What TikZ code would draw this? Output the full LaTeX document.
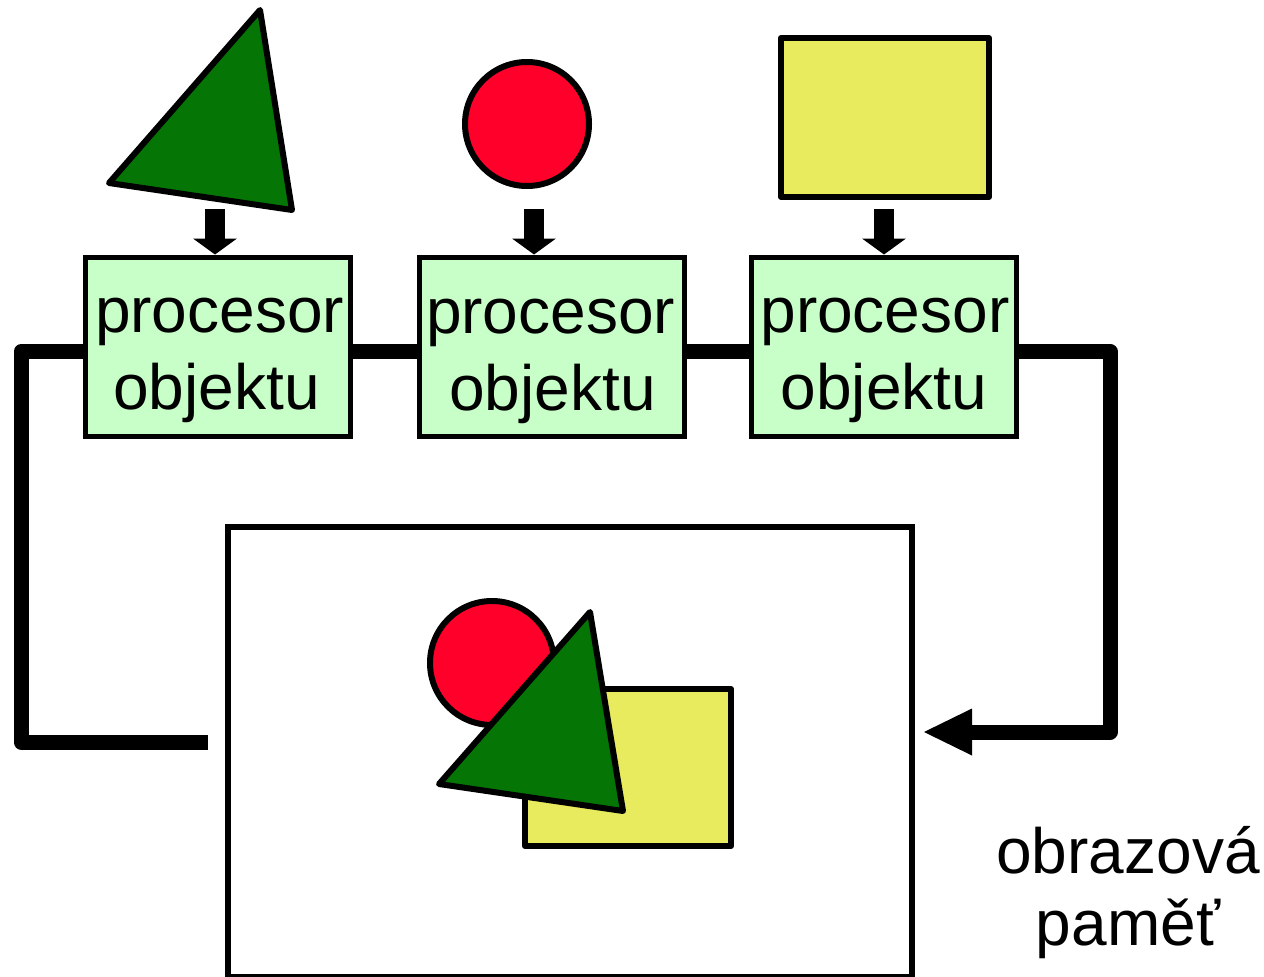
\documentclass[tikz,border=0pt]{standalone}
\usepackage{fontspec}
\setmainfont{Liberation Sans}
\usetikzlibrary{arrows.meta}
\definecolor{boxgreen}{RGB}{200,255,200}
\definecolor{trigreen}{RGB}{5,117,5}
\definecolor{circred}{RGB}{255,0,42}
\definecolor{sqyellow}{RGB}{232,235,94}
\tikzset{
  procbox/.style={draw=black, line width=5pt, fill=boxgreen, minimum width=265pt, minimum height=179pt, inner sep=0pt},
  lbl/.style={inner sep=0pt, anchor=base, font=\fontsize{64}{77}\selectfont},
  shapeline/.style={draw=black, line width=6pt, line join=round},
  blockarrow/.style={line width=20pt, line cap=butt, -{Triangle[length=16pt,width=44pt,line width=0pt]}},
  bus/.style={line width=15pt, line join=round, line cap=butt},
  framebox/.style={draw=black, line width=6pt}
}
\begin{document}
\begin{tikzpicture}[x=1pt,y=-1pt]
\useasboundingbox[fill=white] (0,0) rectangle (1264,977);

% top shapes
\filldraw[shapeline, fill=trigreen] (260,10) -- (109,183) -- (292,210) -- cycle;
\filldraw[shapeline, fill=circred] (527,124) circle[radius=62];
\filldraw[shapeline, fill=sqyellow] (781,38) rectangle (989,197);

% processor boxes
\node[procbox] (p1) at (217.5,346.5) {};
\node[procbox] (p2) at (551.5,346.5) {};
\node[procbox] (p3) at (884,346.5) {};

\node[lbl] (p1a) at (219.5,332) {procesor};
\node[lbl] (p1b) at (216.5,409) {objektu};
\node[lbl] (p2a) at (550.5,333) {procesor};
\node[lbl] (p2b) at (552.5,410) {objektu};
\node[lbl] (p3a) at (885,332) {procesor};
\node[lbl] (p3b) at (884,409) {objektu};

% block arrows
\coordinate (a1) at (215,209);
\coordinate (a2) at (534,209);
\coordinate (a3) at (884,209);
\draw[blockarrow] (a1) -- (a1 |- p1.north);
\draw[blockarrow] (a2) -- (a2 |- p2.north);
\draw[blockarrow] (a3) -- (a3 |- p3.north);

% frame buffer
\draw[framebox] (228,527) rectangle (912,977);
\coordinate (fbin) at (924,732);
\coordinate (lend) at (208,742);

% bus lines
\draw[bus] ([yshift=-5pt]p1.west) -| (21,742) -- (lend);
\draw[bus] ([yshift=-5pt]p1.east) -- ([yshift=-5pt]p2.west);
\draw[bus] ([yshift=-5pt]p2.east) -- ([yshift=-5pt]p3.west);
\draw[bus, -{Triangle[length=48pt,width=47pt,line width=0pt]}] ([yshift=-5pt]p3.east) -| (1110,732) -- (fbin);

% composed image
\filldraw[shapeline, fill=sqyellow] (525,689) rectangle (731,846);
\filldraw[shapeline, fill=circred] (492,663) circle[radius=62];
\filldraw[shapeline, fill=trigreen] (590,612) -- (439,784) -- (623,811) -- cycle;

% label
\node[lbl] (m1) at (1128,873) {obrazová};
\node[lbl] (m2) at (1128,945) {paměť};
\end{tikzpicture}
\end{document}
